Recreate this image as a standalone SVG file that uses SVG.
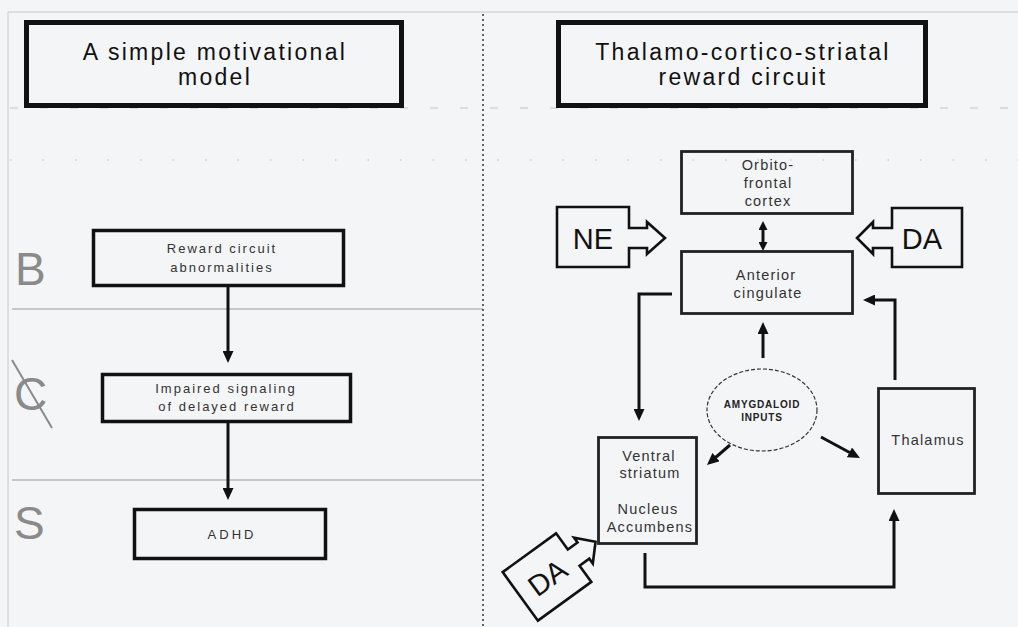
<svg xmlns="http://www.w3.org/2000/svg" width="1018" height="627" viewBox="0 0 1018 627">
  <defs>
    <marker id="ah" markerUnits="userSpaceOnUse" markerWidth="12" markerHeight="11" viewBox="0 0 12 11" refX="6" refY="5.5" orient="auto-start-reverse">
      <path d="M0,0 L12,5.5 L0,11 Z" fill="#111"/>
    </marker>
    <marker id="ahs" markerUnits="userSpaceOnUse" markerWidth="9" markerHeight="9" viewBox="0 0 9 9" refX="4" refY="4.5" orient="auto-start-reverse">
      <path d="M0,0 L9,4.5 L0,9 Z" fill="#111"/>
    </marker>
    <style>
      .title { font-family: "Liberation Sans", Arial, sans-serif; font-size: 23px; fill: #111; text-anchor: middle; letter-spacing: 2.3px; }
      .tbox { fill: none; stroke: #111; stroke-width: 5; }
      .lbox { fill: none; stroke: #111; stroke-width: 3.5; }
      .rbox { fill: none; stroke: #222; stroke-width: 2.8; }
      .ltxt { font-family: "Liberation Sans", Arial, sans-serif; font-size: 13px; fill: #333; text-anchor: middle; letter-spacing: 2px; }
      .rtxt { font-family: "Liberation Sans", Arial, sans-serif; font-size: 14.5px; fill: #333; text-anchor: middle; letter-spacing: 1.2px; }
      .big { font-family: "Liberation Sans", Arial, sans-serif; font-size: 29px; fill: #111; text-anchor: middle; }
      .zone { font-family: "Liberation Sans", Arial, sans-serif; font-size: 46px; fill: #8a8a8a; }
      .conn { fill: none; stroke: #111; stroke-width: 3; }
      .barrow { fill: none; stroke: #111; stroke-width: 2.6; stroke-linejoin: miter; }
    </style>
  </defs>
  <rect x="0" y="0" width="1018" height="627" fill="#f4f5f7"/>

  <!-- background frame and guide lines -->
  <g id="frame">
    <line x1="8" y1="12" x2="1018" y2="12" stroke="#c8c8c8" stroke-width="1"/>
    <line x1="8" y1="12" x2="8" y2="627" stroke="#c8c8c8" stroke-width="1"/>
    <line x1="10" y1="108" x2="1018" y2="108" stroke="#c4c4c4" stroke-width="1" stroke-dasharray="8 22"/>
    <line x1="10" y1="160" x2="1018" y2="160" stroke="#cfcfcf" stroke-width="1.5" stroke-dasharray="1.5 31"/>
    <line x1="12" y1="309" x2="483" y2="309" stroke="#9a9a9a" stroke-width="1.2"/>
    <line x1="12" y1="480" x2="483" y2="480" stroke="#9a9a9a" stroke-width="1.2"/>
    <line x1="483" y1="14" x2="483" y2="627" stroke="#333" stroke-width="1.5" stroke-dasharray="2 3"/>
  </g>

  <!-- zone letters -->
  <g id="zones">
    <text class="zone" x="15" y="285">B</text>
    <text class="zone" x="14" y="410">C</text>
    <line x1="12" y1="360" x2="52" y2="428" stroke="#8a8a8a" stroke-width="2"/>
    <text class="zone" x="14" y="539">S</text>
  </g>

  <!-- left column -->
  <g id="title-left">
    <rect class="tbox" x="26.5" y="22.5" width="375" height="83"/>
    <text class="title" x="215" y="60">A simple motivational</text>
    <text class="title" x="215" y="85">model</text>
  </g>
  <g id="reward-abnorm">
    <rect class="lbox" x="93.5" y="230.5" width="250" height="55"/>
    <text class="ltxt" x="222" y="253">Reward circuit</text>
    <text class="ltxt" x="222" y="272">abnormalities</text>
  </g>
  <g id="impaired">
    <rect class="lbox" x="102.5" y="374.5" width="248" height="47"/>
    <text class="ltxt" x="226" y="393">Impaired signaling</text>
    <text class="ltxt" x="227" y="411">of delayed reward</text>
  </g>
  <g id="adhd">
    <rect class="lbox" x="134.5" y="509.5" width="191" height="49"/>
    <text class="ltxt" x="232" y="539" style="letter-spacing:3px">ADHD</text>
  </g>

  <!-- right column -->
  <g id="title-right">
    <rect class="tbox" x="558.5" y="22.5" width="367" height="83"/>
    <text class="title" x="743" y="60">Thalamo-cortico-striatal</text>
    <text class="title" x="743" y="85">reward circuit</text>
  </g>
  <g id="orbitofrontal">
    <rect class="rbox" x="681.5" y="151.5" width="171" height="62"/>
    <text class="rtxt" x="768" y="170">Orbito-</text>
    <text class="rtxt" x="768" y="188">frontal</text>
    <text class="rtxt" x="768" y="206">cortex</text>
  </g>
  <g id="anterior-cingulate">
    <rect class="rbox" x="681.5" y="251.5" width="171" height="62"/>
    <text class="rtxt" x="766" y="280">Anterior</text>
    <text class="rtxt" x="768" y="298">cingulate</text>
  </g>
  <g id="ventral-striatum">
    <rect class="rbox" x="598.5" y="437.5" width="98" height="106"/>
    <text class="rtxt" x="649" y="461">Ventral</text>
    <text class="rtxt" x="650" y="478">striatum</text>
    <text class="rtxt" x="648" y="514">Nucleus</text>
    <text class="rtxt" x="650" y="532">Accumbens</text>
  </g>
  <g id="thalamus">
    <rect class="rbox" x="878.5" y="388.5" width="96" height="105"/>
    <text class="rtxt" x="928" y="445">Thalamus</text>
  </g>
  <g id="amygdaloid">
    <ellipse cx="762" cy="410" rx="55" ry="41" fill="none" stroke="#333" stroke-width="1.2" stroke-dasharray="4 2"/>
    <text x="762" y="408" font-family="'Liberation Sans', Arial, sans-serif" font-size="10" font-weight="bold" fill="#222" text-anchor="middle" letter-spacing="0.8">AMYGDALOID</text>
    <text x="762" y="421" font-family="'Liberation Sans', Arial, sans-serif" font-size="10" font-weight="bold" fill="#222" text-anchor="middle" letter-spacing="0.8">INPUTS</text>
  </g>
  <g id="ne-input">
    <path class="barrow" d="M557,207 H629 V228 H647 V222 L665,238 L647,254 V248 H629 V267 H557 Z"/>
    <text class="big" x="593" y="249">NE</text>
  </g>
  <g id="da-input-right">
    <path class="barrow" d="M962,208 H892 V228 H873 V222 L857,238 L873,254 V248 H892 V267 H962 Z"/>
    <text class="big" x="922" y="249">DA</text>
  </g>
  <g id="da-input-bottom" transform="translate(547,577) rotate(-36)">
    <path class="barrow" d="M-33,-30 H33 V-10 H45 V-16 L60,0 L45,16 V10 H33 V30 H-33 Z"/>
    <text class="big" x="0" y="11">DA</text>
  </g>

  <!-- connectors -->
  <g id="connectors">
    <line class="conn" x1="228" y1="287" x2="228" y2="357" marker-end="url(#ah)"/>
    <line class="conn" x1="228" y1="423" x2="228" y2="494" marker-end="url(#ah)"/>
    <line class="conn" x1="763" y1="226" x2="763" y2="246" marker-start="url(#ahs)" marker-end="url(#ahs)"/>
    <path class="conn" d="M672,294 H639 V415" marker-end="url(#ah)"/>
    <path class="conn" d="M895,380 V300 H869" marker-end="url(#ah)"/>
    <line class="conn" x1="763" y1="358" x2="763" y2="328" marker-end="url(#ah)"/>
    <line class="conn" x1="730" y1="445" x2="711.5" y2="461" marker-end="url(#ah)"/>
    <line class="conn" x1="821" y1="437" x2="854.7" y2="455.2" marker-end="url(#ah)"/>
    <path class="conn" d="M645,553 V587 H894 V515" marker-end="url(#ah)"/>
  </g>
</svg>
